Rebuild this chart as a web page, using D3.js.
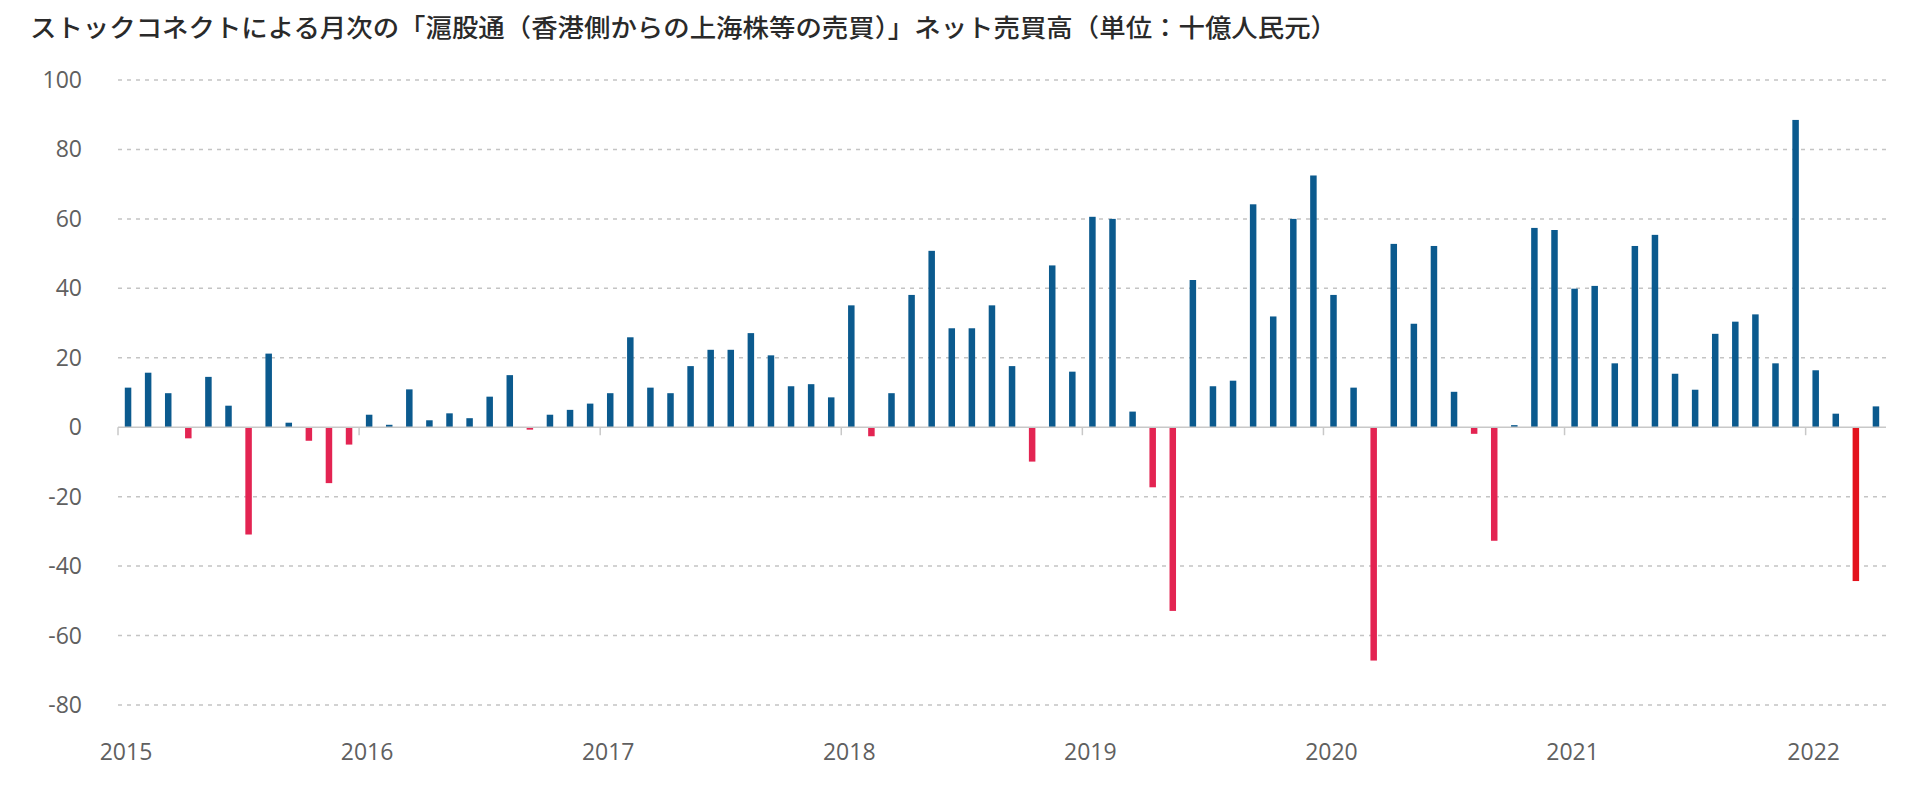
<!DOCTYPE html>
<html><head><meta charset="utf-8">
<script src="https://cdn.jsdelivr.net/npm/d3@7"></script>
<style>body{margin:0;background:#fff}</style></head>
<body><svg id="c" width="1921" height="787"></svg>
<script>
const title = "ストックコネクトによる月次の「滬股通（香港側からの上海株等の売買）」ネット売買高（単位：十億人民元）";
const years = [2015, 2016, 2017, 2018, 2019, 2020, 2021, 2022];
const yTicks = [100, 80, 60, 40, 20, 0, -20, -40, -60, -80];
const values = [
 11.4, 15.7, 9.8, -3.2, 14.5, 6.2, -30.9, 21.2, 1.3, -3.9, -16.1, -5.0,
 3.6, 0.7, 10.9, 2.0, 4.0, 2.6, 8.8, 15.0, -0.7, 3.6, 5.0, 6.8,
 9.8, 25.9, 11.4, 9.8, 17.6, 22.3, 22.3, 27.1, 20.7, 11.8, 12.4, 8.6,
 35.1, -2.6, 9.8, 38.1, 50.8, 28.5, 28.5, 35.1, 17.6, -9.9, 46.6, 16.0,
 60.6, 60.0, 4.5, -17.3, -52.9, 42.4, 11.8, 13.4, 64.2, 31.9, 60.0, 72.5,
 38.1, 11.4, -67.2, 52.8, 29.8, 52.2, 10.2, -1.9, -32.7, 0.6, 57.4, 56.8,
 39.9, 40.7, 18.4, 52.2, 55.4, 15.4, 10.8, 26.9, 30.4, 32.5, 18.4, 88.5,
 16.4, 3.9, -44.3, 6.0
];
const months = values.map((v, i) => i);
const lastIdx = values.length - 1;

const svg = d3.select("#c");
const L = 118, R = 1886, T = 80, B = 705;
const x = d3.scaleLinear().domain([0, values.length]).range([L, R]);
const y = d3.scaleLinear().domain([-80, 100]).range([B, T]);

svg.append("text").attr("x", 30).attr("y", 37).text(title)
  .attr("font-family", "Noto Sans CJK JP").attr("font-weight", 500).attr("font-size", 25).attr("fill", "#2a2a2a")
  .attr("textLength", 1307).attr("lengthAdjust", "spacingAndGlyphs");

svg.append("g").selectAll("line").data(yTicks.filter(d => d !== 0)).join("line")
  .attr("x1", L).attr("x2", R).attr("y1", d => y(d)).attr("y2", d => y(d))
  .attr("stroke", "#c4c4c4").attr("stroke-width", 1.5).attr("stroke-dasharray", "4,5");

svg.append("g").selectAll("text").data(yTicks).join("text")
  .attr("x", 82).attr("y", d => y(d) + 8).attr("text-anchor", "end").text(d => d)
  .attr("font-family", "Open Sans").attr("font-size", 23).attr("fill", "#606060");

const bw = 6.5;
svg.append("g").selectAll("rect").data(months).join("rect")
  .attr("x", i => x(i + 0.5) - bw / 2).attr("width", bw)
  .attr("y", i => y(Math.max(0, values[i])))
  .attr("height", i => Math.abs(y(values[i]) - y(0)))
  .attr("fill", i => values[i] >= 0 ? "#0b5a8e" : (i === lastIdx - 1 ? "#e3121c" : "#e32452"));

svg.append("line").attr("x1", L).attr("x2", R).attr("y1", y(0)).attr("y2", y(0))
  .attr("stroke", "#c8c8c8").attr("stroke-width", 1.5);

svg.append("g").selectAll("line").data(years).join("line")
  .attr("x1", (d, i) => x(i * 12)).attr("x2", (d, i) => x(i * 12))
  .attr("y1", y(0)).attr("y2", y(0) + 8).attr("stroke", "#c8c8c8").attr("stroke-width", 1.5);

svg.append("g").selectAll("text").data(years).join("text")
  .attr("x", (d, i) => x(i * 12) + 8).attr("y", 760).attr("text-anchor", "middle").text(d => d)
  .attr("font-family", "Open Sans").attr("font-size", 23).attr("fill", "#606060");
</script></body></html>
